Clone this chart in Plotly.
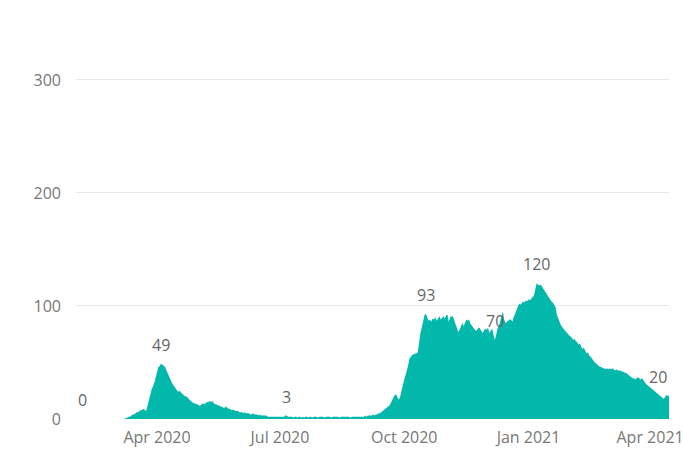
import pandas as pd
import plotly.graph_objects as go

# Daily values by month, Feb 2020 .. 15 Apr 2021
feb_2020 = [0] * 29
mar_2020 = [0, 0, 0, 0, 0, 0, 0, 0, 1, 1, 2, 2, 3, 4, 4, 5, 6, 6, 7, 8, 8, 9, 8, 7,
            12, 17, 22, 26, 29, 32, 37]
apr_2020 = [41, 46, 47, 49, 48, 47, 46, 43, 40, 37, 34, 32, 30, 28, 26, 25, 24, 25,
            23, 22, 21, 20, 20, 18, 17, 16, 15, 14, 14, 13]
may_2020 = [13, 12, 12, 13, 14, 13, 14, 15, 15, 16, 15, 16, 14, 13, 13, 12, 12, 11,
            11, 10, 10, 11, 10, 9, 9, 8, 8, 8, 7, 7, 7]
jun_2020 = [6, 6, 6, 5, 6, 5, 5, 5, 4, 4, 5, 4, 4, 4, 3, 4, 3, 3, 3, 3, 3, 2, 2, 2,
            2, 2, 2, 2, 2, 2]
jul_2020 = [2, 2, 2, 2, 3, 3, 2, 2, 2, 2, 1, 2, 2, 1, 2, 2, 1, 2, 1, 2, 2, 1, 2, 2,
            1, 2, 2, 2, 1, 2, 2]
aug_2020 = [2, 2, 1, 2, 2, 2, 2, 1, 2, 2, 2, 2, 2, 1, 2, 2, 2, 2, 2, 2, 2, 1, 2, 2,
            2, 2, 2, 2, 2, 2, 2]
sep_2020 = [2, 3, 2, 3, 3, 3, 3, 4, 3, 4, 4, 5, 5, 6, 7, 8, 9, 10, 11, 12, 14, 17,
            19, 21, 22, 19, 17, 20, 26, 31]
oct_2020 = [35, 39, 43, 48, 54, 55, 57, 57, 58, 58, 59, 70, 76, 81, 87, 92, 93, 90,
            87, 88, 86, 89, 88, 90, 87, 89, 91, 88, 90, 91, 89]
nov_2020 = [92, 92, 86, 90, 91, 91, 87, 84, 80, 77, 79, 83, 85, 82, 86, 88, 87, 88,
            84, 83, 81, 79, 78, 79, 81, 80, 78, 76, 78, 80]
dec_2020 = [79, 81, 76, 78, 80, 75, 70, 74, 80, 82, 86, 92, 95, 88, 85, 86, 87, 88,
            88, 86, 90, 93, 95, 99, 102, 101, 103, 104, 103, 105, 104]
jan_2021 = [106, 105, 107, 108, 109, 114, 120, 119, 118, 119, 117, 115, 113, 112,
            109, 107, 105, 104, 103, 101, 99, 92, 88, 86, 83, 81, 80, 78, 77, 75, 74]
feb_2021 = [73, 72, 70, 71, 69, 68, 66, 67, 64, 62, 63, 60, 58, 59, 56, 55, 53, 52,
            50, 49, 48, 47, 46, 46, 45, 45, 44, 45]
mar_2021 = [44, 45, 44, 45, 44, 43, 44, 43, 43, 43, 42, 42, 41, 41, 40, 39, 38, 37,
            36, 36, 35, 36, 37, 36, 35, 36, 34, 33, 31, 30, 29]
apr_2021 = [28, 27, 26, 25, 24, 23, 22, 21, 20, 19, 18, 19, 21, 21, 20]

values = (feb_2020 + mar_2020 + apr_2020 + may_2020 + jun_2020 + jul_2020 + aug_2020
          + sep_2020 + oct_2020 + nov_2020 + dec_2020 + jan_2021 + feb_2021
          + mar_2021 + apr_2021)
dates = pd.date_range("2020-02-01", periods=len(values), freq="D")
series = pd.Series(values, index=dates)

# Dates that carry a data label
label_dates = ["2020-02-01", "2020-04-04", "2020-07-06", "2020-10-17",
               "2020-12-07", "2021-01-07", "2021-04-15"]

tick_dates = ["2020-04-01", "2020-07-01", "2020-10-01", "2021-01-01", "2021-04-01"]
tick_text = ["Apr 2020", "Jul 2020", "Oct 2020", "Jan 2021", "Apr 2021"]
y_ticks = [0, 100, 200, 300]

TEAL = "#01B8AA"
FONT = "Open Sans"

fig = go.Figure()
fig.add_trace(go.Scatter(
    x=series.index, y=series.values,
    mode="lines", fill="tozeroy",
    line=dict(width=0, color=TEAL),
    fillcolor=TEAL,
    hoverinfo="x+y",
    showlegend=False,
))

first, last = series.index[0], series.index[-1]
for d in label_dates:
    ts = pd.Timestamp(d)
    v = int(series[ts])
    anchor = "center"
    if ts == first:
        anchor = "left"
    elif ts == last:
        anchor = "right"
    fig.add_annotation(
        x=ts, y=v, text=str(v), showarrow=False,
        xanchor=anchor, yanchor="middle", yshift=19,
        font=dict(family=FONT, size=16, color="#666666"),
    )

fig.update_layout(
    width=683, height=450,
    margin=dict(l=76, r=14, t=20, b=31),
    paper_bgcolor="white", plot_bgcolor="white",
    font=dict(family=FONT, size=16, color="#777777"),
)
fig.update_xaxes(
    range=[first, last], automargin=False,
    tickvals=pd.to_datetime(tick_dates), ticktext=tick_text,
    showgrid=False, zeroline=False, showline=False,
    ticks="", ticklabelstandoff=7, ticklabeloverflow="allow",
    tickfont=dict(family=FONT, size=16, color="#777777"),
)
fig.update_yaxes(
    range=[0, 353], automargin=False,
    tickvals=y_ticks,
    showgrid=True, gridcolor="#E8E8E8", gridwidth=1,
    zeroline=False, showline=False,
    ticks="", ticklabelstandoff=14,
    tickfont=dict(family=FONT, size=16, color="#777777"),
)

fig.write_html("out.html")
